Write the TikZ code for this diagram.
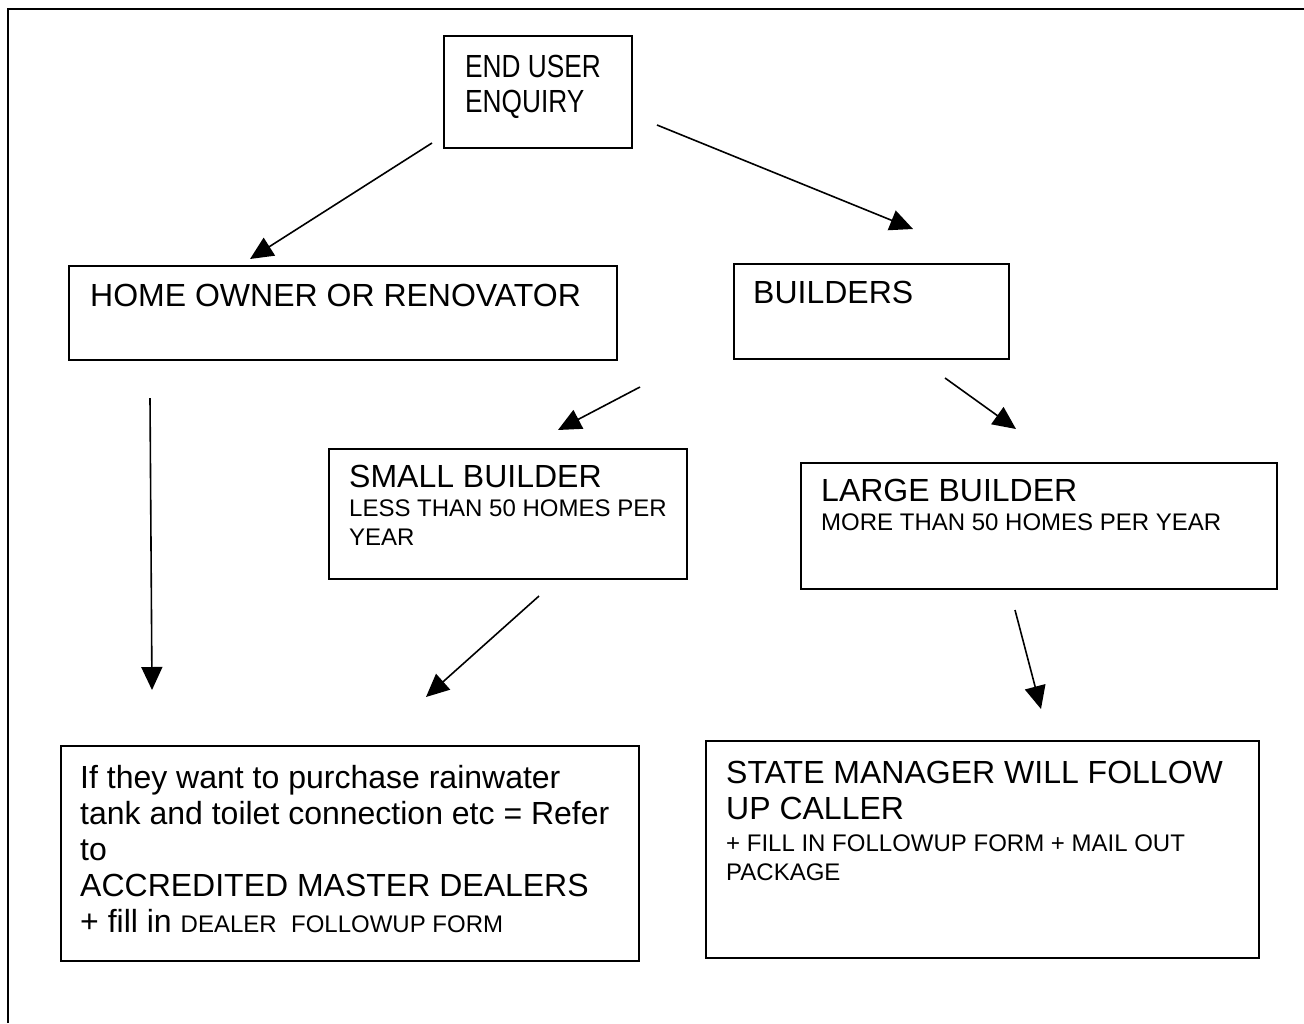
\documentclass[tikz,border=0pt]{standalone}
\usepackage{fontspec}
\setmainfont{Liberation Sans}
\newfontfamily\narrowfont[FakeStretch=0.82]{Liberation Sans}
\usetikzlibrary{arrows.meta}
\begin{document}
\begin{tikzpicture}[x=1pt,y=-1pt,
  box/.style={draw, line width=1.6pt, inner sep=0pt, anchor=north west},
  big/.style={font=\fontsize{32}{36.8}\selectfont, anchor=base west, inner sep=0pt},
  small/.style={font=\fontsize{24}{27.6}\selectfont, anchor=base west, inner sep=0pt},
  narrow/.style={font=\narrowfont\fontsize{32}{36.8}\selectfont, anchor=base west, inner sep=0pt},
  arr/.style={line width=1.6pt, -{Triangle[length=23pt,width=21pt]}}]
\useasboundingbox (0,0) rectangle (1304,1023);
% outer frame
\coordinate (fbl) at (8,1023);
\coordinate (ftl) at (8,9);
\coordinate (ftr) at (1304,9);
\draw[line width=2.2pt] (fbl) -- (ftl) -- (ftr);

% boxes
\node[box, minimum width=188pt, minimum height=112pt] (enq) at (443,35) {};
\node[box, minimum width=548pt, minimum height=94pt] (home) at (68,265) {};
\node[box, minimum width=275pt, minimum height=95pt] (build) at (733,263) {};
\node[box, minimum width=358pt, minimum height=130pt] (small) at (328,448) {};
\node[box, minimum width=476pt, minimum height=126pt] (large) at (800,462) {};
\node[box, minimum width=578pt, minimum height=215pt] (dealer) at (60,745) {};
\node[box, minimum width=553pt, minimum height=217pt] (state) at (705,740) {};

% texts
\node[narrow] (t1) at (465,77) {END USER};
\node[narrow] (t2) at (465,112) {ENQUIRY};
\node[big] (t3) at (90,306) {HOME OWNER OR RENOVATOR};
\node[big] (t4) at (753,303) {BUILDERS};
\node[big] (t5) at (349,487) {SMALL BUILDER};
\node[small] (t6) at (349,516) {LESS THAN 50 HOMES PER};
\node[small] (t7) at (349,545) {YEAR};
\node[big] (t8) at (821,501) {LARGE BUILDER};
\node[small] (t9) at (821,530) {MORE THAN 50 HOMES PER YEAR};
\node[big] (t10) at (80,788) {If they want to purchase rainwater};
\node[big] (t11) at (80,824) {tank and toilet connection etc = Refer};
\node[big] (t12) at (80,860) {to};
\node[big] (t13) at (80,896) {ACCREDITED MASTER DEALERS};
\node[big] (t14) at (80,932) {+ fill in {\fontsize{24}{27.6}\selectfont DEALER\hspace{0.6em}FOLLOWUP FORM}};
\node[big] (t15) at (726,783) {STATE MANAGER WILL FOLLOW};
\node[big] (t16) at (726,819) {UP CALLER};
\node[small] (t17) at (726,851) {+ FILL IN FOLLOWUP FORM + MAIL OUT};
\node[small] (t18) at (726,880) {PACKAGE};

% arrows
\coordinate (a1s) at (432,143); \coordinate (a1e) at (250,259);
\coordinate (a2s) at (657,125); \coordinate (a2e) at (913,229);
\coordinate (a3s) at (640,387); \coordinate (a3e) at (558,430);
\coordinate (a4s) at (945,378); \coordinate (a4e) at (1016,429);
\coordinate (a5s) at (150,398); \coordinate (a5e) at (152,690);
\coordinate (a6s) at (539,596); \coordinate (a6e) at (426,697);
\coordinate (a7s) at (1015,610); \coordinate (a7e) at (1041,709);
\draw[arr] (a1s) -- (a1e);
\draw[arr] (a2s) -- (a2e);
\draw[arr] (a3s) -- (a3e);
\draw[arr] (a4s) -- (a4e);
\draw[arr] (a5s) -- (a5e);
\draw[arr] (a6s) -- (a6e);
\draw[arr] (a7s) -- (a7e);
\end{tikzpicture}
\end{document}
